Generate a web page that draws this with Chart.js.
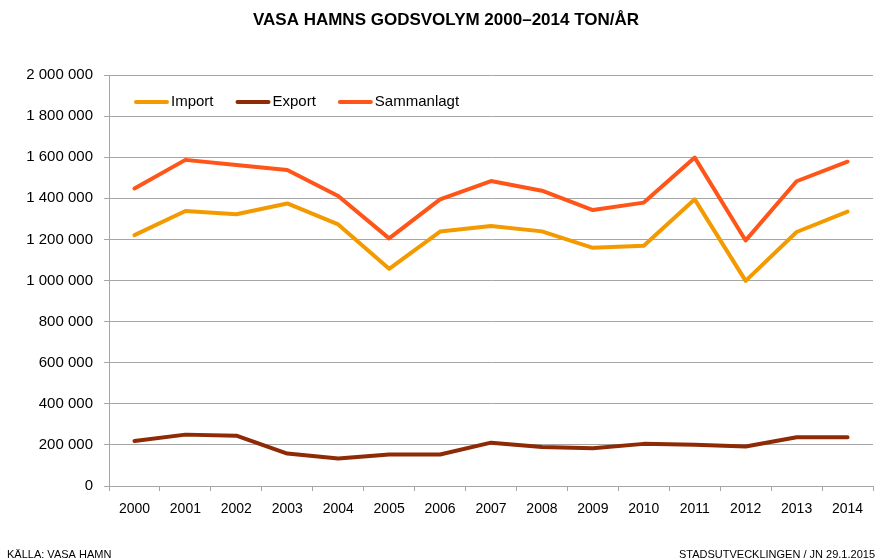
<!DOCTYPE html>
<html><head><meta charset="utf-8">
<script src="https://cdn.jsdelivr.net/npm/chart.js@4.4.1/dist/chart.umd.min.js"></script>
<style>html,body{margin:0;padding:0;background:#fff;}#wrap{width:878px;height:559px;}</style>
</head><body><div id="wrap"><canvas id="c" width="878" height="559"></canvas></div>
<script>
const years = ['2000','2001','2002','2003','2004','2005','2006','2007','2008','2009','2010','2011','2012','2013','2014'];
const importValues = [1221000,1338000,1322000,1375000,1273000,1057000,1238000,1265000,1239000,1159000,1169000,1395000,998000,1236000,1335000];
const exportValues = [219000,250000,245000,158000,134000,153000,153000,211000,190000,184000,205000,201000,192000,237000,237000];
const totalValues = [1448000,1587000,1562000,1538000,1411000,1205000,1395000,1484000,1437000,1343000,1379000,1598000,1195000,1483000,1578000];
const seriesNames = ['Import','Export','Sammanlagt'];
const seriesColors = ['#F39A00','#8E2A05','#FF5518'];
const yTicks = [0,200000,400000,600000,800000,1000000,1200000,1400000,1600000,1800000,2000000];
const chartTitle = 'VASA HAMNS GODSVOLYM 2000\u20132014 TON/\u00C5R';
const sourceNote = 'K\u00C4LLA: VASA HAMN';
const creditNote = 'STADSUTVECKLINGEN / JN 29.1.2015';

const FONT = '"Liberation Sans", Arial, sans-serif';
const fmt = v => String(v).replace(/\B(?=(\d{3})+(?!\d))/g, ' ');

const legendAndNotes = {
  id: 'legendAndNotes',
  afterDraw(chart) {
    const ctx = chart.ctx;
    ctx.save();
    // legend inside plot
    ctx.font = '15px ' + FONT;
    ctx.textBaseline = 'middle';
    let x = 134; const y = 102;
    chart.data.datasets.forEach(ds => {
      ctx.strokeStyle = ds.borderColor; ctx.lineWidth = 4; ctx.lineCap = 'round';
      ctx.beginPath(); ctx.moveTo(x + 2, y); ctx.lineTo(x + 33, y); ctx.stroke();
      ctx.fillStyle = '#000'; ctx.textAlign = 'left';
      ctx.fillText(ds.label, x + 37, y);
      x += 37 + ctx.measureText(ds.label).width + 22;
    });
    // footer notes
    ctx.font = '11px ' + FONT;
    ctx.textBaseline = 'alphabetic';
    ctx.fillStyle = '#000';
    ctx.textAlign = 'left'; ctx.fillText(sourceNote, 7, 558);
    ctx.textAlign = 'right'; ctx.fillText(creditNote, 875, 558);
    ctx.restore();
  }
};

new Chart(document.getElementById('c'), {
  type: 'line',
  data: {
    labels: years,
    datasets: [
      {label: seriesNames[0], data: importValues, borderColor: seriesColors[0], backgroundColor: seriesColors[0]},
      {label: seriesNames[1], data: exportValues, borderColor: seriesColors[1], backgroundColor: seriesColors[1]},
      {label: seriesNames[2], data: totalValues, borderColor: seriesColors[2], backgroundColor: seriesColors[2]}
    ]
  },
  options: {
    responsive: false,
    animation: false,
    elements: {line: {borderWidth: 4, tension: 0, borderCapStyle: 'round', borderJoinStyle: 'round'}, point: {radius: 0, hoverRadius: 0}},
    layout: {padding: {left: 19, right: 5, top: 0, bottom: 0}},
    plugins: {
      legend: {display: false},
      tooltip: {enabled: false},
      title: {display: true, text: chartTitle, color: '#000', font: {family: FONT, size: 17, weight: 'bold', lineHeight: 1.2}, padding: {top: 10, bottom: 44.6}}
    },
    scales: {
      x: {
        offset: true,
        grid: {display: true, drawOnChartArea: false, offset: true, color: '#A6A6A6', tickLength: 5},
        border: {display: true, color: '#A6A6A6'},
        ticks: {color: '#000', font: {family: FONT, size: 14}, padding: 10, maxRotation: 0, autoSkip: false},
        afterFit: s => { s.height = 559 - 486; }
      },
      y: {
        min: 0, max: 2000000,
        afterBuildTicks: s => { s.ticks = yTicks.map(v => ({value: v})); },
        grid: {color: '#A6A6A6', tickLength: 5},
        border: {display: true, color: '#A6A6A6'},
        ticks: {color: '#000', font: {family: FONT, size: 15}, padding: 11, callback: v => fmt(v)},
        afterFit: s => { s.width = 90; }
      }
    }
  },
  plugins: [legendAndNotes]
});
</script></body></html>
